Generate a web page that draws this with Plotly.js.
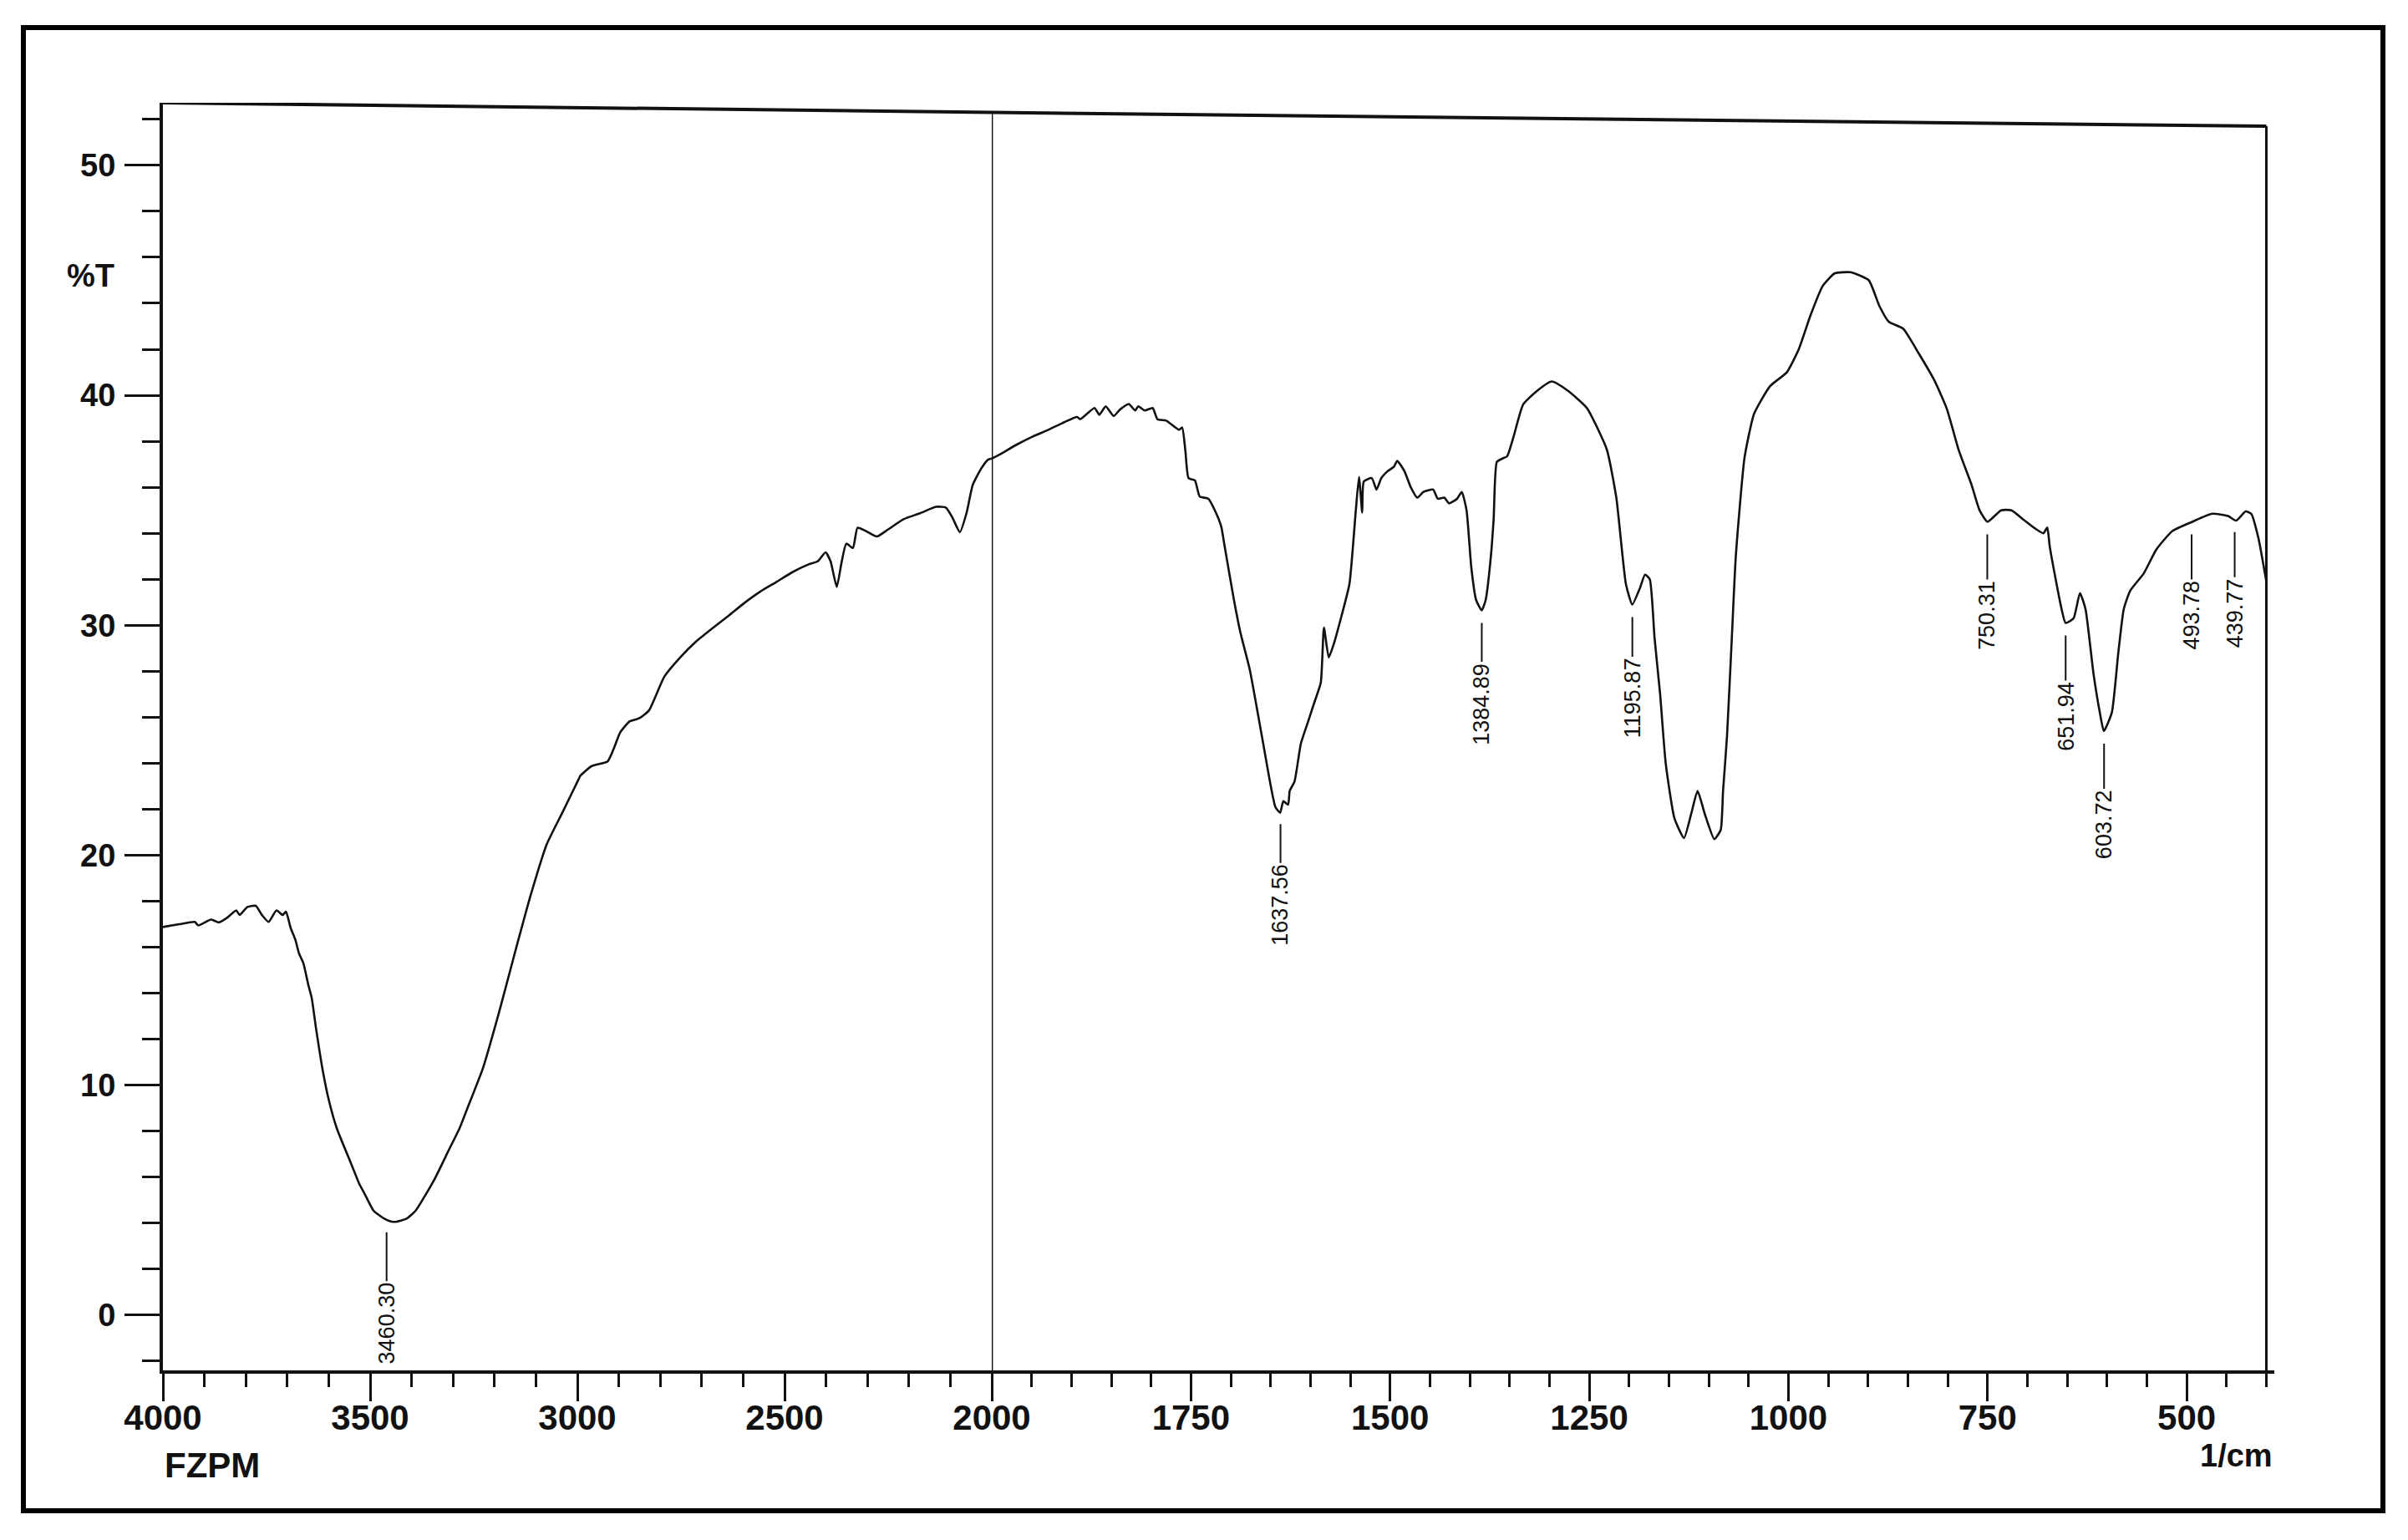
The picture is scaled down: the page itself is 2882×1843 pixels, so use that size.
<!DOCTYPE html>
<html>
<head>
<meta charset="utf-8">
<script src="https://cdn.plot.ly/plotly-3.0.1.min.js"></script>
<style>
  html, body { margin: 0; padding: 0; background: #ffffff; }
  #chart { width: 2882px; height: 1843px; }
</style>
</head>
<body>
<div id="chart"></div>
<script>
// ---- Spectrum, 4000–2000 1/cm segment (wavenumber, %T) ----
const wnHigh = [4000,3961,3923,3915,3884,3865,3846,3823,3815,3796,3776,3761,3745,3726,3711,3703,3692,3680,3672,3661,3649,3641,3630,3614,3599,3580,3545,3526,3514,3492,3466,3450,3439,3412,3390,3345,3311,3284,3267,3228,3190,3151,3113,3074,3036,2997,2993,2966,2927,2912,2897,2874,2850,2827,2790,2752,2713,2675,2636,2597,2559,2520,2482,2443,2420,2401,2389,2374,2362,2351,2335,2324,2304,2277,2250,2212,2173,2135,2111,2096,2077,2061,2046,2026,2009,2000];
const tHigh  = [16.88,17.0,17.1,16.95,17.2,17.08,17.27,17.6,17.4,17.75,17.8,17.4,17.1,17.6,17.4,17.55,16.85,16.3,15.75,15.3,14.35,13.8,12.4,10.6,9.3,8.1,6.55,5.7,5.3,4.55,4.2,4.08,4.06,4.2,4.55,5.9,7.15,8.14,8.92,10.73,13.1,15.74,18.24,20.47,21.86,23.3,23.45,23.87,24.08,24.64,25.33,25.82,25.96,26.3,27.77,28.6,29.3,29.86,30.4,30.97,31.46,31.88,32.3,32.64,32.78,33.17,32.78,31.67,32.78,33.55,33.36,34.24,34.1,33.86,34.17,34.62,34.87,35.15,35.12,34.72,34.05,34.87,36.1,36.8,37.2,37.25];

// ---- Spectrum, 2000–400 1/cm segment (wavenumber, %T) ----
const wnLow = [2000,1990,1969,1949,1929,1909,1893,1889,1871,1865,1857,1847,1839,1828,1820,1816,1808,1798,1792,1781,1765,1761,1757,1753,1745,1739,1728,1720,1712,1708,1696,1688,1676,1660,1644,1638,1634,1628,1626,1620,1612,1603,1595,1587,1583,1577,1571,1561,1551,1543,1539,1535,1533,1523,1517,1511,1503,1495,1491,1482,1474,1466,1458,1446,1440,1432,1426,1416,1410,1404,1398,1392,1385,1380,1374,1370,1366,1359,1353,1345,1333,1317,1297,1277,1253,1228,1216,1204,1196,1186,1180,1174,1168,1161,1154,1143,1131,1122,1114,1105,1093,1085,1082,1077,1071,1066,1055,1043,1023,1002,987,972,957,942,922,899,886,874,856,836,816,801,786,770,760,750,733,720,705,690,680,675,672,665,657,652,642,634,627,617,609,604,594,586,579,571,554,538,518,493,468,448,438,426,419,410,400];
const tLow  = [37.25,37.43,37.85,38.2,38.5,38.83,39.06,38.96,39.45,39.15,39.52,39.1,39.38,39.62,39.34,39.52,39.34,39.45,38.96,38.9,38.5,38.6,37.6,36.4,36.3,35.6,35.5,35.0,34.3,33.5,31.1,29.7,28.05,25.0,22.1,21.85,22.35,22.2,22.8,23.2,24.85,25.8,26.65,27.5,29.9,28.6,29.15,30.4,31.8,35.0,36.45,34.9,36.25,36.4,35.9,36.4,36.7,36.9,37.15,36.7,36.0,35.55,35.8,35.9,35.5,35.55,35.3,35.5,35.8,35.0,32.5,31.1,30.65,31.1,32.8,34.6,37.1,37.25,37.35,38.2,39.6,40.15,40.6,40.2,39.45,37.65,35.55,31.8,30.9,31.65,32.2,32.0,29.45,27.0,24.0,21.6,20.75,21.8,22.8,21.8,20.7,21.1,22.8,25.2,29.45,33.0,37.3,39.2,40.4,41.0,42.0,43.5,44.75,45.3,45.35,45.0,43.9,43.2,42.9,41.8,40.6,39.4,37.6,36.1,35.0,34.5,35.0,35.0,34.6,34.2,34.0,34.25,33.45,32.1,30.7,30.1,30.3,31.4,30.7,27.9,26.2,25.4,26.2,28.75,30.7,31.5,32.25,33.3,34.1,34.5,34.85,34.75,34.55,34.95,34.85,33.8,31.9];

// ---- Peak picks ----
const peakWn = [3460.30, 1637.56, 1384.89, 1195.87, 750.31, 651.94, 603.72, 493.78, 439.77];
const peakT  = [4.15, 21.9, 30.65, 30.9, 34.5, 30.1, 25.4, 34.5, 34.6];

// ---- Axis ticks ----
const xTicksHigh = [4000, 3500, 3000, 2500];
const xTicksLow  = [2000, 1750, 1500, 1250, 1000, 750, 500];
const yTicks     = [0, 10, 20, 30, 40, 50];

const FONT = 'Liberation Sans, Arial, sans-serif';
const INK = '#111111';

const lineStyle = { color: INK, width: 2.6, shape: 'spline', smoothing: 0.5 };
const traces = [
  { type: 'scatter', mode: 'lines', x: wnHigh, y: tHigh, xaxis: 'x', yaxis: 'y', line: lineStyle, hoverinfo: 'skip' },
  { type: 'scatter', mode: 'lines', x: wnLow, y: tLow, xaxis: 'x2', yaxis: 'y', line: lineStyle, hoverinfo: 'skip' }
];

const Y_MIN = -2.4, Y_MAX = 52.72;
const split = 992 / 2527;

const xCommon = {
  anchor: 'y', showgrid: false, zeroline: false,
  showline: true, linecolor: INK, linewidth: 4,
  ticks: 'outside', ticklen: 33, tickwidth: 3, tickcolor: INK,
  tickfont: { family: FONT, size: 42, color: INK, weight: 'bold' },
  ticklabelstandoff: -16, tickmode: 'array', automargin: false
};

const annotations = peakWn.map((w, i) => ({
  x: w, y: peakT[i], xref: w > 2000 ? 'x' : 'x2', yref: 'y',
  text: w.toFixed(2), textangle: -90,
  font: { family: FONT, size: 27, color: INK },
  showarrow: true, arrowhead: 0, arrowwidth: 2, arrowcolor: INK,
  ax: 0, ay: w > 2000 ? 124 : 112, standoff: 15
}));

annotations.push(
  { text: '%T', xref: 'paper', yref: 'y', x: -0.0344, y: 45.2, xanchor: 'center', yanchor: 'middle',
    showarrow: false, font: { family: FONT, size: 38, color: INK, weight: 'bold' } },
  { text: 'FZPM', xref: 'paper', yref: 'paper', x: 0, y: -0.0745, xanchor: 'left', yanchor: 'middle',
    showarrow: false, font: { family: FONT, size: 42, color: INK, weight: 'bold' } },
  { text: '1/cm', xref: 'paper', yref: 'paper', x: 1, y: -0.0672, xanchor: 'right', yanchor: 'middle',
    showarrow: false, font: { family: FONT, size: 38, color: INK, weight: 'bold' } }
);

const shapes = [
  { type: 'rect', xref: 'paper', yref: 'paper', x0: -0.06609, x1: 1.05144, y0: -0.11075, y1: 1.05933,
    line: { color: '#000', width: 6 }, fillcolor: 'rgba(0,0,0,0)' },
  { type: 'line', xref: 'x', yref: 'y', x0: 4000, y0: 52.72, x1: 2000, y1: 52.3, line: { color: INK, width: 4 } },
  { type: 'line', xref: 'x2', yref: 'y', x0: 2000, y0: 52.3, x1: 400, y1: 51.7, line: { color: INK, width: 4 } },
  { type: 'line', xref: 'x2', yref: 'y', x0: 2000, y0: Y_MIN, x1: 2000, y1: 52.3, line: { color: INK, width: 2.8 } },
  { type: 'line', xref: 'x2', yref: 'y', x0: 400, y0: Y_MIN, x1: 400, y1: 51.7, line: { color: INK, width: 3 } }
];

const layout = {
  width: 2882, height: 1843,
  margin: { l: 195, r: 160, t: 123, b: 203, pad: 0 },
  paper_bgcolor: '#ffffff', plot_bgcolor: '#ffffff',
  showlegend: false,
  xaxis: Object.assign({}, xCommon, {
    domain: [0, split], range: [4000, 2000], tickvals: xTicksHigh,
    minor: { tickmode: 'linear', tick0: 0, dtick: 100, ticks: 'outside', ticklen: 16, tickwidth: 3, tickcolor: INK, showgrid: false }
  }),
  xaxis2: Object.assign({}, xCommon, {
    domain: [split, 1], range: [2000, 390], tickvals: xTicksLow,
    minor: { tickmode: 'linear', tick0: 0, dtick: 50, ticks: 'outside', ticklen: 16, tickwidth: 3, tickcolor: INK, showgrid: false }
  }),
  yaxis: {
    range: [Y_MIN, Y_MAX], tickmode: 'array', tickvals: yTicks,
    showgrid: false, zeroline: false, showline: true, linecolor: INK, linewidth: 4,
    ticks: 'outside', ticklen: 42, tickwidth: 3, tickcolor: INK,
    tickfont: { family: FONT, size: 38, color: INK, weight: 'bold' },
    ticklabelstandoff: 3, automargin: false,
    minor: { tickmode: 'linear', tick0: 0, dtick: 2, ticks: 'outside', ticklen: 21, tickwidth: 3, tickcolor: INK, showgrid: false }
  },
  shapes: shapes,
  annotations: annotations
};

Plotly.newPlot('chart', traces, layout, { staticPlot: true, displayModeBar: false });
</script>
</body>
</html>
